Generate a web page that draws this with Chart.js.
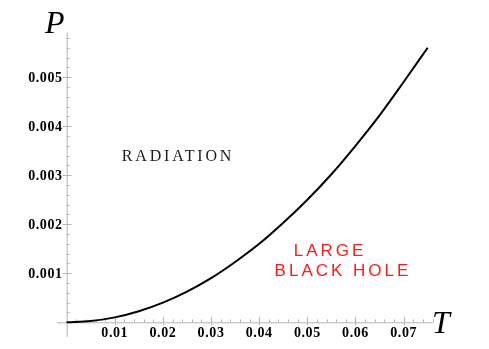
<!DOCTYPE html>
<html>
<head>
<meta charset="utf-8">
<script src="https://cdn.jsdelivr.net/npm/chart.js@4"></script>
<style>
  html, body { margin: 0; padding: 0; background: #fff; }
  #grafico { display: block; }
</style>
</head>
<body>
<canvas id="grafico" width="489" height="349"></canvas>
<script>
// valores
const temperaturas = [0, 0.005, 0.01, 0.015, 0.02, 0.025, 0.03, 0.035, 0.04, 0.045, 0.05, 0.055, 0.06, 0.065, 0.07, 0.075];
const pressoes = [0, 0.000025, 0.0001, 0.000225, 0.0004, 0.000625, 0.0009, 0.00123, 0.0016, 0.00203, 0.0025, 0.00302, 0.0036, 0.00422, 0.0049, 0.0056];

const xTicks = [0.01, 0.02, 0.03, 0.04, 0.05, 0.06, 0.07];
const xTickLabels = ['0.01', '0.02', '0.03', '0.04', '0.05', '0.06', '0.07'];
const yTicks = [0.001, 0.002, 0.003, 0.004, 0.005];
const yTickLabels = ['0.001', '0.002', '0.003', '0.004', '0.005'];

const pontos = temperaturas.map((t, i) => ({ x: t, y: pressoes[i] }));

// eixos estilo Mathematica, cruzando na origem
const eixos = {
  id: 'eixos',
  beforeDatasetsDraw(chart) {
    const ctx = chart.ctx;
    const xs = chart.scales.x, ys = chart.scales.y;
    const x0 = xs.getPixelForValue(0), y0 = ys.getPixelForValue(0);
    ctx.save();
    ctx.strokeStyle = '#b4b4b4';
    ctx.lineWidth = 1;
    ctx.beginPath();
    ctx.moveTo(xs.left, y0 + 0.5); ctx.lineTo(xs.right, y0 + 0.5);
    ctx.moveTo(x0 + 0.5, ys.top); ctx.lineTo(x0 + 0.5, ys.bottom);
    // ticks menores
    for (let k = 1; k <= 38; k++) {
      const px = Math.round(xs.getPixelForValue(k * 0.002)) + 0.5;
      const len = (k % 5 === 0) ? 5 : 3;
      ctx.moveTo(px, y0); ctx.lineTo(px, y0 - len);
      if (k % 5 === 0) { ctx.moveTo(px, y0); ctx.lineTo(px, y0 + 3); }
    }
    for (let k = 1; k <= 29; k++) {
      const py = Math.round(ys.getPixelForValue(k * 0.0002)) + 0.5;
      const len = (k % 5 === 0) ? 5 : 3;
      ctx.moveTo(x0, py); ctx.lineTo(x0 + len, py);
      if (k % 5 === 0) { ctx.moveTo(x0, py); ctx.lineTo(x0 - 4, py); }
    }
    ctx.stroke();

    ctx.fillStyle = '#000';
    ctx.font = 'bold 14px "Liberation Serif"';
    ctx.letterSpacing = '0.6px';
    ctx.textAlign = 'center';
    ctx.textBaseline = 'middle';
    xTicks.forEach((v, i) => {
      ctx.fillText(xTickLabels[i], xs.getPixelForValue(v), y0 + 11);
    });
    ctx.textAlign = 'right';
    yTicks.forEach((v, i) => {
      ctx.fillText(yTickLabels[i], x0 - 4, ys.getPixelForValue(v) + 1);
    });
    ctx.restore();
  },
  afterDraw(chart) {
    const ctx = chart.ctx;
    ctx.save();
    ctx.fillStyle = '#000';
    ctx.textBaseline = 'alphabetic';
    ctx.textAlign = 'left';
    ctx.font = 'italic 32px "Liberation Serif"';
    ctx.fillText('P', 45, 33);
    ctx.fillText('T', 432, 333);

    ctx.font = '16px "Liberation Serif"';
    ctx.letterSpacing = '2.8px';
    ctx.textAlign = 'center';
    ctx.fillStyle = '#1a1a1a';
    ctx.fillText('RADIATION', 178, 161);

    ctx.fillStyle = '#ff1a1a';
    ctx.font = '17px "Liberation Sans"';
    ctx.letterSpacing = '3px';
    ctx.fillText('LARGE', 330, 256);
    ctx.fillText('BLACK HOLE', 343, 276);
    ctx.restore();
  }
};

new Chart(document.getElementById('grafico').getContext('2d'), {
  type: 'scatter',
  data: {
    datasets: [{
      data: pontos,
      showLine: true,
      borderColor: '#000',
      borderWidth: 2,
      pointRadius: 0,
      cubicInterpolationMode: 'monotone'
    }]
  },
  options: {
    responsive: false,
    devicePixelRatio: 1,
    animation: false,
    layout: { padding: { left: 57, right: 56, top: 33, bottom: 12 } },
    plugins: { legend: { display: false }, tooltip: { enabled: false } },
    scales: {
      x: { type: 'linear', display: false, min: -0.002, max: 0.0761 },
      y: { type: 'linear', display: false, min: -0.0003, max: 0.0059 }
    }
  },
  plugins: [eixos]
});
</script>
</body>
</html>
